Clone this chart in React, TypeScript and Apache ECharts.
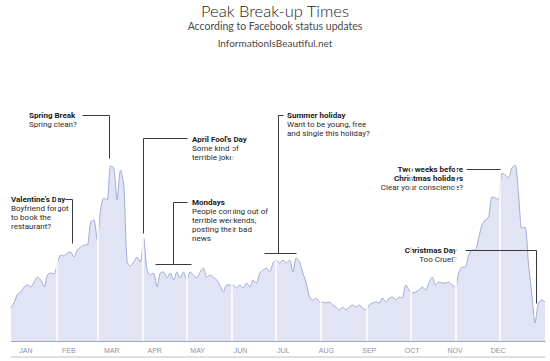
import React, { useEffect, useRef } from "react";
import * as echarts from "echarts";

const months = ["JAN", "FEB", "MAR", "APR", "MAY", "JUN", "JUL", "AUG", "SEP", "OCT", "NOV", "DEC"];
const monthStartDays = [0, 31, 59, 90, 120, 151, 181, 212, 243, 273, 304, 334];

// relative volume of "break-up" status updates, sampled evenly through the year
const breakupIndex = [
  33, 39, 47, 49, 54, 56, 54, 59, 64, 61, 54, 66, 68, 67, 78, 86, 85, 88, 89, 84,
  91, 94, 96, 96, 119, 121, 101, 131, 143, 141, 175, 173, 141, 171, 156, 79, 75, 79, 84, 79,
  103, 71, 66, 68, 54, 68, 69, 63, 68, 61, 69, 63, 69, 61, 69, 66, 63, 69, 73, 64,
  66, 64, 61, 56, 49, 56, 56, 56, 53, 56, 53, 58, 54, 61, 58, 68, 71, 73, 69, 78,
  81, 78, 81, 78, 81, 69, 83, 79, 68, 58, 44, 41, 43, 39, 39, 38, 39, 36, 34, 31,
  34, 31, 34, 36, 34, 36, 33, 31, 36, 38, 39, 38, 43, 39, 43, 44, 41, 44, 43, 56,
  51, 48, 49, 51, 54, 51, 58, 64, 56, 59, 58, 58, 59, 56, 54, 68, 74, 74, 86, 91,
  91, 103, 116, 121, 124, 144, 143, 141, 168, 166, 163, 173, 176, 148, 113, 114, 78, 48, 18, 38,
  41, 39,
];

type Note = {
  x: number;
  y: number;
  align: "left" | "right";
  titles: string[];
  lines: string[];
  leaders: number[][][];
};

const notes: Note[] = [
  { x: 29, y: 115, align: "left", titles: ["Spring Break"], lines: ["Spring clean?"], leaders: [[[82, 115], [109, 115], [109, 158]]] },
  { x: 11, y: 199, align: "left", titles: ["Valentine's Day"], lines: ["Boyfriend forgot", "to book the", "restaurant?"], leaders: [[[65, 199], [72, 199], [72, 243]]] },
  { x: 192, y: 139, align: "left", titles: ["April Fool's Day"], lines: ["Some kind of", "terrible joke"], leaders: [[[187, 138], [143, 138], [143, 233]]] },
  { x: 192, y: 202, align: "left", titles: ["Mondays"], lines: ["People coming out of", "terrible weekends,", "posting their bad", "news"], leaders: [[[187, 202], [173, 202], [173, 264]], [[155, 264], [191, 264]]] },
  { x: 287, y: 115, align: "left", titles: ["Summer holiday"], lines: ["Want to be young, free", "and single this holiday?"], leaders: [[[283, 115], [278, 115], [278, 253]], [[264, 253], [296, 253]]] },
  { x: 463, y: 169, align: "right", titles: ["Two weeks before", "Christmas holidays"], lines: ["Clear your conscience?"], leaders: [[[466, 169], [500, 169]]] },
  { x: 457, y: 250, align: "right", titles: ["Christmas Day"], lines: ["Too Cruel?"], leaders: [[[465, 250], [536, 250], [536, 303]]] },
];

const FONT = "Roboto, 'Liberation Sans', Arial, sans-serif";
const TFONT = "Lato, 'Open Sans', sans-serif";

function txt(x: number, y: number, text: string, size: number, weight: any, align: string, family: string, fill: string) {
  return {
    type: "text",
    x,
    y,
    silent: true,
    style: {
      text,
      fill,
      fontSize: size,
      fontWeight: weight,
      fontFamily: family,
      align,
      textAlign: align,
      verticalAlign: "middle",
      textVerticalAlign: "middle",
    },
  };
}

export default function App() {
  const ref = useRef<HTMLDivElement>(null);
  useEffect(() => {
    const chart = echarts.init(ref.current!, null, { renderer: "svg" });
    const n = breakupIndex.length;
    const seriesData = breakupIndex.map((v, i) => [(i * 365) / (n - 1), v]);

    const graphics: any[] = [];
    graphics.push(txt(275, 11, "Peak Break-up Times", 16.5, 300, "center", TFONT, "#1a1a1a"));
    graphics.push(txt(275, 26, "According to Facebook status updates", 10.5, "normal", "center", TFONT, "#4a4a4a"));
    graphics.push(txt(275, 43, "InformationIsBeautiful.net", 10, "normal", "center", TFONT, "#4a4a4a"));
    graphics.push({ type: "rect", silent: true, shape: { x: 11, y: 356.5, width: 534, height: 1 }, style: { fill: "#bfc1c7" } });

    notes.forEach((nt) => {
      let yy = nt.y;
      nt.titles.forEach((t) => {
        graphics.push(txt(nt.x, yy, t, 8, "bold", nt.align, FONT, "#1a1a1a"));
        yy += 9;
      });
      nt.lines.forEach((t) => {
        graphics.push(txt(nt.x, yy, t, 8, "normal", nt.align, FONT, "#2a2a2a"));
        yy += 9;
      });
      nt.leaders.forEach((pts) => {
        graphics.push({
          type: "polyline",
          silent: true,
          shape: { points: pts.map((p) => [p[0] + 0.5, p[1] + 0.5]) },
          style: { stroke: "#3a3a3a", lineWidth: 1, fill: null },
          z: 10,
        });
      });
    });

    chart.setOption({
      animation: false,
      backgroundColor: "#ffffff",
      grid: [
        { left: 11, right: 5, top: 141, bottom: 20 },
        { left: 4.5, width: 515, top: 341, height: 1 },
      ],
      xAxis: [
        {
          type: "value",
          gridIndex: 0,
          min: 0,
          max: 365,
          axisLine: { show: true, lineStyle: { color: "#a3a7b3", width: 1 } },
          axisTick: { show: false },
          axisLabel: { show: false },
          splitLine: { show: false },
        },
        {
          type: "category",
          gridIndex: 1,
          data: months,
          position: "bottom",
          axisLine: { show: false },
          axisTick: { show: false },
          axisLabel: { fontSize: 7, color: "#8d93a3", margin: 5, fontFamily: "'Liberation Sans', Arial, sans-serif" },
        },
      ],
      yAxis: [
        { type: "value", gridIndex: 0, min: 0, max: 200, show: false },
        { type: "value", gridIndex: 1, show: false },
      ],
      series: [
        {
          type: "line",
          xAxisIndex: 0,
          yAxisIndex: 0,
          data: seriesData,
          symbol: "none",
          smooth: 0.25,
          lineStyle: { width: 0, opacity: 0 },
          areaStyle: { color: "#e1e4f4", opacity: 1 },
          z: 1,
          silent: true,
          markLine: {
            silent: true,
            symbol: ["none", "none"],
            label: { show: false },
            emphasis: { disabled: true },
            lineStyle: { color: "#ffffff", width: 1.5, type: "solid" },
            data: monthStartDays.slice(1).map((d) => ({ xAxis: d })),
          },
        },
        {
          type: "line",
          xAxisIndex: 0,
          yAxisIndex: 0,
          data: seriesData,
          symbol: "none",
          smooth: 0.25,
          lineStyle: { color: "#a3aad5", width: 1 },
          z: 3,
          silent: true,
        },
      ],
      graphic: graphics,
    });
    return () => chart.dispose();
  }, []);
  return (
    <div
      ref={ref}
      style={{ position: "fixed", left: 0, top: 0, width: 550, height: 361, background: "#fff" }}
    />
  );
}
